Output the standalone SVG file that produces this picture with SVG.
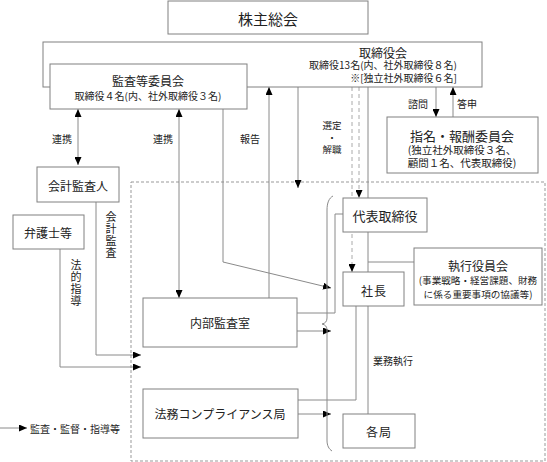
<svg xmlns="http://www.w3.org/2000/svg" width="547" height="462" viewBox="0 0 547 462">
<style>
text{font-family:"Noto Sans CJK JP","Noto Sans",sans-serif;fill:#222;text-anchor:middle;dominant-baseline:central}
.box{fill:#fff;stroke:#808080;stroke-width:1}
.ln{fill:none;stroke:#8a8a8a;stroke-width:1}
.dash{fill:none;stroke:#aaa;stroke-width:1;stroke-dasharray:4,3}
.t12{font-size:12px}
.t10{font-size:10px}
.vt{font-size:11px;writing-mode:vertical-rl;text-anchor:start;letter-spacing:1px}
</style>
<defs>
<marker id="ah" markerUnits="userSpaceOnUse" markerWidth="8" markerHeight="7" refX="8" refY="3.5" orient="auto-start-reverse">
<path d="M0,0 L8,3.5 L0,7 z" fill="#000"/>
</marker>
</defs>
<rect x="0" y="0" width="547" height="462" fill="#fff"/>
<rect x="131" y="182" width="414" height="279" fill="none" stroke="#999" stroke-width="1" stroke-dasharray="3,2"/>
<g id="connectors">
<line class="ln" x1="368" y1="87" x2="368" y2="414"/>
<line class="ln" x1="368" y1="262" x2="414" y2="262"/>
<line class="dash" x1="352" y1="87" x2="352" y2="272" marker-end="url(#ah)"/>
<line class="dash" x1="359" y1="87" x2="359" y2="198" marker-end="url(#ah)"/>
<line class="ln" x1="298" y1="87" x2="298" y2="188" marker-end="url(#ah)"/>
<line class="ln" x1="269" y1="298" x2="269" y2="87" marker-end="url(#ah)"/>
<line class="ln" x1="78" y1="109" x2="78" y2="165" marker-start="url(#ah)" marker-end="url(#ah)"/>
<line class="ln" x1="179" y1="109" x2="179" y2="298" marker-start="url(#ah)" marker-end="url(#ah)"/>
<polyline class="ln" points="223,109 223,262 331,288" marker-end="url(#ah)"/>
<line class="ln" x1="436" y1="87" x2="436" y2="117" marker-end="url(#ah)"/>
<line class="ln" x1="453" y1="117" x2="453" y2="87" marker-end="url(#ah)"/>
<polyline class="ln" points="343,214 335,214 335,313 297,313"/>
<line class="ln" x1="297" y1="331" x2="331" y2="331" marker-end="url(#ah)"/>
<line class="ln" x1="298" y1="414" x2="331" y2="414" marker-end="url(#ah)"/>
<polyline class="ln" points="356,306 356,400 298,400"/>
<polyline class="ln" points="96,202 96,355 141,355" marker-end="url(#ah)"/>
<polyline class="ln" points="60,249 60,367 141,367" marker-end="url(#ah)"/>
<path class="ln" d="M333,196 C329,198 327,203 327,210 L327,318 Q327,323 322,324 Q327,325 327,330 L327,440 C327,446 329,449 332,451"/>
<line class="ln" x1="0" y1="428" x2="27" y2="428" marker-end="url(#ah)"/>
</g>
<g id="kabunushi"><rect class="box" x="168" y="1" width="200" height="33"/><text x="268" y="18" font-size="15">株主総会</text></g>
<g id="torishimariyakukai"><rect class="box" x="43" y="42" width="439" height="45"/>
<text class="t12" x="383" y="52">取締役会</text>
<text class="t10" x="383" y="64">取締役13名(内、社外取締役８名)</text>
<text class="t10" x="457" y="77" style="text-anchor:end">※[独立社外取締役６名]</text></g>
<g id="kansa"><rect class="box" x="50" y="64" width="197" height="45"/>
<text class="t12" x="148" y="80">監査等委員会</text>
<text class="t10" x="148" y="95">取締役４名(内、社外取締役３名)</text></g>
<g id="shimei"><rect class="box" x="387" y="117" width="151" height="56"/>
<text x="462" y="135" font-size="13">指名・報酬委員会</text>
<text x="462" y="149" font-size="10.5">(独立社外取締役３名、</text>
<text x="462" y="162" font-size="10.5">顧問１名、代表取締役)</text></g>
<g id="kaikei"><rect class="box" x="37" y="167" width="82" height="35"/><text class="t12" x="78" y="185">会計監査人</text></g>
<g id="bengoshi"><rect class="box" x="13" y="215" width="71" height="34"/><text class="t12" x="48" y="232">弁護士等</text></g>
<g id="daihyo"><rect class="box" x="343" y="198" width="84" height="34"/><text x="385" y="215" font-size="13">代表取締役</text></g>
<g id="shikko"><rect class="box" x="414" y="248" width="128" height="57"/>
<text class="t12" x="478" y="265">執行役員会</text>
<text x="478" y="280" font-size="9.6">(事業戦略・経営課題、財務</text>
<text x="478" y="294" font-size="9.6">に係る重要事項の協議等)</text></g>
<g id="shacho"><rect class="box" x="343" y="272" width="61" height="34"/><text class="t12" x="374" y="290" letter-spacing="1">社長</text></g>
<g id="naibu"><rect class="box" x="143" y="298" width="154" height="49"/><text class="t12" x="220" y="322">内部監査室</text></g>
<g id="homu"><rect class="box" x="143" y="389" width="155" height="49"/><text class="t12" x="220" y="413">法務コンプライアンス局</text></g>
<g id="kakukyoku"><rect class="box" x="343" y="414" width="72" height="34"/><text class="t12" x="379" y="431" letter-spacing="1">各局</text></g>
<g id="labels">
<text class="t10" x="62" y="138">連携</text>
<text class="t10" x="163" y="138">連携</text>
<text class="t10" x="250" y="138">報告</text>
<text font-size="9.5" x="332" y="125">選定</text>
<text font-size="9.5" x="332" y="137">・</text>
<text font-size="9.5" x="332" y="149">解職</text>
<text class="t10" x="418" y="103">諮問</text>
<text class="t10" x="467" y="103">答申</text>
<text class="t10" x="393" y="360">業務執行</text>
<text class="t10" x="30" y="428" style="text-anchor:start">監査・監督・指導等</text>
<text class="vt" x="111" y="211">会計監査</text>
<text class="vt" x="76" y="259">法的指導</text>
</g>
</svg>
